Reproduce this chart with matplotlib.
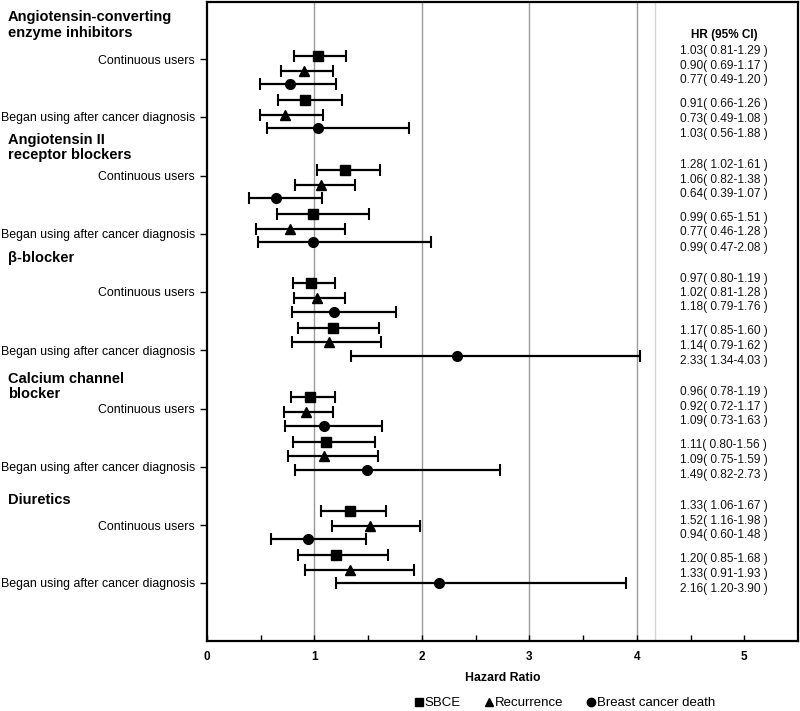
import matplotlib
matplotlib.use("Agg")
from matplotlib import pyplot as plt
from matplotlib.lines import Line2D
from matplotlib.transforms import blended_transform_factory

plt.rcParams["font.family"] = ["Liberation Sans", "DejaVu Sans"]

# ----------------------------------------------------------------------------
# Data
# ----------------------------------------------------------------------------
drug_classes = [
    "Angiotensin-converting\nenzyme inhibitors",
    "Angiotensin II\nreceptor blockers",
    "β-blocker",
    "Calcium channel\nblocker",
    "Diuretics",
]
user_groups = ["Continuous users", "Began using after cancer diagnosis"]
outcomes = ["SBCE", "Recurrence", "Breast cancer death"]

# per drug class: [cont SBCE, cont Rec, cont Death, began SBCE, began Rec, began Death]
hr = [
    [1.03, 0.90, 0.77, 0.91, 0.73, 1.03],
    [1.28, 1.06, 0.64, 0.99, 0.77, 0.99],
    [0.97, 1.02, 1.18, 1.17, 1.14, 2.33],
    [0.96, 0.92, 1.09, 1.11, 1.09, 1.49],
    [1.33, 1.52, 0.94, 1.20, 1.33, 2.16],
]
ci_low = [
    [0.81, 0.69, 0.49, 0.66, 0.49, 0.56],
    [1.02, 0.82, 0.39, 0.65, 0.46, 0.47],
    [0.80, 0.81, 0.79, 0.85, 0.79, 1.34],
    [0.78, 0.72, 0.73, 0.80, 0.75, 0.82],
    [1.06, 1.16, 0.60, 0.85, 0.91, 1.20],
]
ci_high = [
    [1.29, 1.17, 1.20, 1.26, 1.08, 1.88],
    [1.61, 1.38, 1.07, 1.51, 1.28, 2.08],
    [1.19, 1.28, 1.76, 1.60, 1.62, 4.03],
    [1.19, 1.17, 1.63, 1.56, 1.59, 2.73],
    [1.67, 1.98, 1.48, 1.68, 1.93, 3.90],
]

# ----------------------------------------------------------------------------
# Layout (y in pixel-like units, top = 0)
# ----------------------------------------------------------------------------
GROUP_STEP = 113.8
ROW_OFFS = [0, 15, 28.5, 44.5, 59, 72.5]
TEXT_OFFS = [-4.7, 10, 24, 48, 63, 78]
HEAD_Y = [25, 147.5, 258, 386.5, 500]
LABEL_STEP = 116.5
MARKERS = ["s", "^", "o"]
MSIZE = [6.5, 7, 7]

fig = plt.figure(figsize=(8, 7.11), dpi=100)
ax = fig.add_axes([207 / 800, 70 / 711, 591 / 800, 639 / 711])
ax.set_xlim(0, 5.5)
ax.set_ylim(641, 2)

for xv in [1, 2, 3, 4]:
    ax.axvline(xv, color="#9a9a9a", lw=1.0, zorder=1)
ax.axvline(4.17, color="#d4d4d4", lw=1.0, zorder=1)

tr = blended_transform_factory(ax.transAxes, ax.transData)
ytick_pos = []
ytick_lab = []
for g, name in enumerate(drug_classes):
    base = 55.7 + GROUP_STEP * g
    for r in range(6):
        y = base + ROW_OFFS[r]
        k = r % 3
        h, lo, hi = hr[g][r], ci_low[g][r], ci_high[g][r]
        ax.errorbar(h, y, xerr=[[h - lo], [hi - h]], fmt=MARKERS[k],
                    color="black", ms=MSIZE[k], elinewidth=1.6, capsize=4,
                    capthick=1.5, zorder=3)
        ax.text(4.81, base + TEXT_OFFS[r], f"{h:.2f}( {lo:.2f}-{hi:.2f} )",
                ha="center", va="center", fontsize=8.6, color="#111111")
    ytick_pos += [59 + LABEL_STEP * g, 117 + LABEL_STEP * g]
    ytick_lab += user_groups
    ax.text(-0.337, HEAD_Y[g], name, transform=tr, ha="left", va="center",
            fontsize=10.5, fontweight="bold", linespacing=1.15)

ax.text(4.81, 35, "HR (95% CI)", ha="center", va="center",
        fontsize=8.5, fontweight="bold")

ax.set_yticks(ytick_pos)
ax.set_yticklabels(ytick_lab, fontsize=8.9)
ax.tick_params(axis="y", direction="out", length=5, width=1)

ax.set_xticks([0, 1, 2, 3, 4, 5])
ax.set_xticks([0.5, 1.5, 2.5, 3.5, 4.5], minor=True)
ax.tick_params(axis="x", which="both", direction="in", length=4, width=1,
               labelsize=8.5, pad=7)
for lab in ax.get_xticklabels():
    lab.set_fontweight("bold")
ax.set_xlabel("Hazard Ratio", fontsize=8.8, fontweight="bold", labelpad=7)

for sp in ax.spines.values():
    sp.set_linewidth(1.6)

handles = [Line2D([], [], marker=m, color="black", ls="none", ms=6)
           for m in MARKERS]
fig.legend(handles, outcomes, loc="center", bbox_to_anchor=(565 / 800, 1 - 703 / 711),
           ncol=3, frameon=False, fontsize=9.5, handlelength=0.6,
           handletextpad=0.15, columnspacing=1.8, borderpad=0.2)

fig.savefig("out.png", dpi=100)
